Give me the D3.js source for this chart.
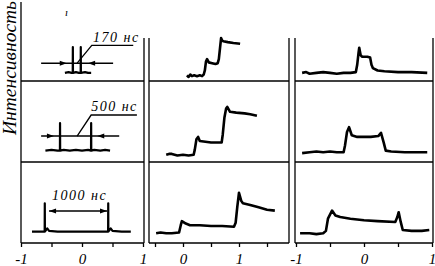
<!DOCTYPE html>
<html><head><meta charset="utf-8">
<script src="https://cdn.jsdelivr.net/npm/d3@7"></script>
<style>
html,body{margin:0;padding:0;background:#fff;}
svg{display:block;}
text{font-family:"Liberation Serif","DejaVu Serif",serif;font-style:italic;fill:#000;}
</style></head>
<body>
<svg id="c" width="435" height="266"></svg>
<script>
// ---- data ----
const yLabel = "Интенсивность";
const pulseLabels = ["170 нс", "500 нс", "1000 нс"];
const colDomains = [[-1, 1], [-0.5, 1.5], [-1, 1]];
const colTicks = [[-1, -0.5, 0, 0.5, 1], [-0.5, 0, 0.5, 1, 1.5], [-1, -0.5, 0, 0.5, 1]];
const colTickLabels = [[-1, 0, 1], [0, 1], [-1, 0, 1]];

// column 1: pulse pairs (time, intensity)
const pulseR1 = [[-0.28,10],[-0.22,11],[-0.17,10],[-0.152,10],[-0.15,42],[-0.148,10],[-0.1,11],[-0.05,10],[-0.022,10],[-0.02,42],[-0.018,10],[0.05,11],[0.1,10],[0.15,10]];
const pulseR2 = [[-0.6,14],[-0.5,15],[-0.4,14],[-0.362,14],[-0.36,48],[-0.358,14],[-0.3,15],[-0.2,14],[-0.1,15],[0,14],[0.1,15],[0.148,14],[0.15,48],[0.152,14],[0.2,15],[0.3,14],[0.38,15],[0.46,14]];
const pulseR3 = [[-0.82,14],[-0.7,14],[-0.612,14],[-0.61,49],[-0.608,14],[-0.57,18],[-0.54,15],[-0.4,14],[-0.2,14],[0,14],[0.2,14],[0.428,14],[0.43,49],[0.432,14],[0.47,18],[0.5,15],[0.65,14],[0.8,14]];

// column 2
const traceR1C2 = [[0.07,7],[0.1,5],[0.13,8],[0.16,6],[0.2,7],[0.25,6],[0.3,7],[0.34,6],[0.37,8],[0.39,13],[0.41,24],[0.43,27],[0.46,23],[0.52,22],[0.58,21],[0.62,22],[0.64,27],[0.66,40],[0.68,53],[0.7,50],[0.72,49],[0.8,48],[0.9,47],[1.02,46]];
const traceR2C2 = [[-0.3,9],[-0.25,10],[-0.2,10],[-0.1,8],[0,9],[0.1,8],[0.19,9],[0.21,15],[0.24,28],[0.27,31],[0.3,26],[0.4,25],[0.5,24],[0.6,24],[0.69,24],[0.71,34],[0.74,55],[0.77,66],[0.79,68],[0.84,62],[0.95,61],[1.1,60],[1.2,59],[1.32,57]];
const traceR3C2 = [[-0.48,12],[-0.4,13],[-0.3,12],[-0.2,12],[-0.07,13],[-0.04,22],[-0.02,27],[0.05,24],[0.125,22],[0.3,22],[0.5,21],[0.7,21],[0.91,20],[0.94,25],[0.97,45],[1.0,62],[1.04,52],[1.07,49],[1.2,47],[1.35,44],[1.5,41],[1.64,40]];

// column 3
const traceR1C3 = [[-0.91,10],[-0.85,11],[-0.8,9],[-0.7,10],[-0.6,11],[-0.5,10],[-0.4,9],[-0.3,10],[-0.2,10],[-0.12,11],[-0.1,20],[-0.08,35],[-0.07,41],[-0.05,32],[-0.03,30],[0.05,30],[0.09,29],[0.11,20],[0.13,16],[0.2,13],[0.3,12],[0.5,11],[0.7,11],[0.93,10]];
const traceR2C3 = [[-0.91,11],[-0.8,12],[-0.7,13],[-0.6,12],[-0.5,13],[-0.4,12],[-0.3,12],[-0.28,20],[-0.25,37],[-0.22,43],[-0.18,33],[-0.1,31],[0,31],[0.1,31],[0.21,32],[0.25,36],[0.29,24],[0.32,14],[0.4,13],[0.6,12],[0.8,12],[0.93,12]];
const traceR3C3 = [[-0.94,12],[-0.8,12],[-0.7,11],[-0.6,12],[-0.56,15],[-0.53,30],[-0.47,40],[-0.42,34],[-0.35,32],[-0.2,30],[0,28],[0.2,27],[0.46,26],[0.49,32],[0.51,38],[0.54,26],[0.57,16],[0.7,15],[0.85,15],[0.96,16]];

// annotations in column 1 (time, intensity)
const arrowR1 = {line: [-0.67, 0.51], y: 22, heads: [[-0.25, 1], [0.1, -1]], leader: [[-0.08,22],[0.16,44],[0.84,44]], text: [0.18, 48]};
const arrowR2 = {line: [-0.67, 0.61], y: 32, heads: [[-0.46, 1], [0.25, -1]], leader: [[-0.08,32],[0.15,58],[0.9,58]], text: [0.15, 63]};
const arrowR3 = {line: [-0.54, 0.41], y: 39.5, heads: [[-0.54, -1], [0.41, 1]], leader: null, text: [-0.49, 53]};

// ---- layout ----
const svg = d3.select("#c");
const colX = [[21, 144], [149, 289], [295, 433]];
const colRange = [[21, 143], [155, 267], [296, 432]];
const rowBottom = [81, 162, 243];
const rowH = 81;
const topStart = 38;

const xs = colDomains.map((d, i) => d3.scaleLinear().domain(d).range(colRange[i]));
const ys = rowBottom.map(b => d3.scaleLinear().domain([0, 100]).range([b, b - rowH]));

// frames
colX.forEach((cx, ci) => {
  const g = svg.append("g").attr("stroke", "#000").attr("stroke-width", 1.3).attr("fill", "none");
  g.append("line").attr("x1", cx[0]).attr("x2", cx[0]).attr("y1", ci === 0 ? 2 : topStart).attr("y2", 243);
  g.append("line").attr("x1", cx[1]).attr("x2", cx[1]).attr("y1", topStart).attr("y2", 243);
  rowBottom.forEach(b => g.append("line").attr("x1", cx[0]).attr("x2", cx[1]).attr("y1", b).attr("y2", b));
});

// axes
xs.forEach((x, ci) => {
  const ax = d3.axisBottom(x).tickValues(colTicks[ci]).tickSize(4).tickPadding(6)
    .tickFormat(v => colTickLabels[ci].includes(v) ? String(v) : "");
  const g = svg.append("g").attr("transform", "translate(0,243)").call(ax);
  g.select(".domain").remove();
  g.selectAll(".tick line").attr("stroke", "#000").attr("stroke-width", 1.3);
  g.selectAll(".tick text").attr("font-family", "Liberation Serif").attr("font-style", "italic")
    .attr("font-size", 15).attr("fill", "#000");
});

// traces
const traces = [
  [pulseR1, 0, 0], [pulseR2, 0, 1], [pulseR3, 0, 2],
  [traceR1C2, 1, 0], [traceR2C2, 1, 1], [traceR3C2, 1, 2],
  [traceR1C3, 2, 0], [traceR2C3, 2, 1], [traceR3C3, 2, 2]
];
traces.forEach(([data, c, r]) => {
  const line = d3.line().x(d => xs[c](d[0])).y(d => ys[r](d[1]));
  svg.append("path").attr("d", line(data)).attr("fill", "none").attr("stroke", "#000")
    .attr("stroke-width", c === 0 ? 2.2 : 2.6).attr("stroke-linejoin", "round");
});

// annotations
[arrowR1, arrowR2, arrowR3].forEach((a, r) => {
  const x = xs[0], y = ys[r];
  const g = svg.append("g");
  g.append("line").attr("x1", x(a.line[0])).attr("x2", x(a.line[1]))
    .attr("y1", y(a.y)).attr("y2", y(a.y)).attr("stroke", "#000").attr("stroke-width", 1.5);
  a.heads.forEach(([t, dir]) => {
    const tx = x(t), ty = y(a.y);
    g.append("path").attr("d", `M${tx},${ty}L${tx - dir * 7},${ty - 2.5}L${tx - dir * 7},${ty + 2.5}Z`).attr("fill", "#000");
  });
  if (a.leader) {
    g.append("path").attr("d", d3.line().x(d => x(d[0])).y(d => y(d[1]))(a.leader))
      .attr("fill", "none").attr("stroke", "#000").attr("stroke-width", 1.3);
  }
  g.append("text").attr("x", x(a.text[0])).attr("y", y(a.text[1]))
    .attr("font-size", 14).attr("letter-spacing", 1.5).text(pulseLabels[r]);
});

// stray mark
svg.append("text").attr("x", 65).attr("y", 16).attr("font-size", 11).text("ı");

// y label
svg.append("text").attr("transform", "translate(16,68) rotate(-90)").attr("text-anchor", "middle")
  .attr("font-size", 18).attr("textLength", 134).attr("lengthAdjust", "spacingAndGlyphs").text(yLabel);
</script>
</body></html>
